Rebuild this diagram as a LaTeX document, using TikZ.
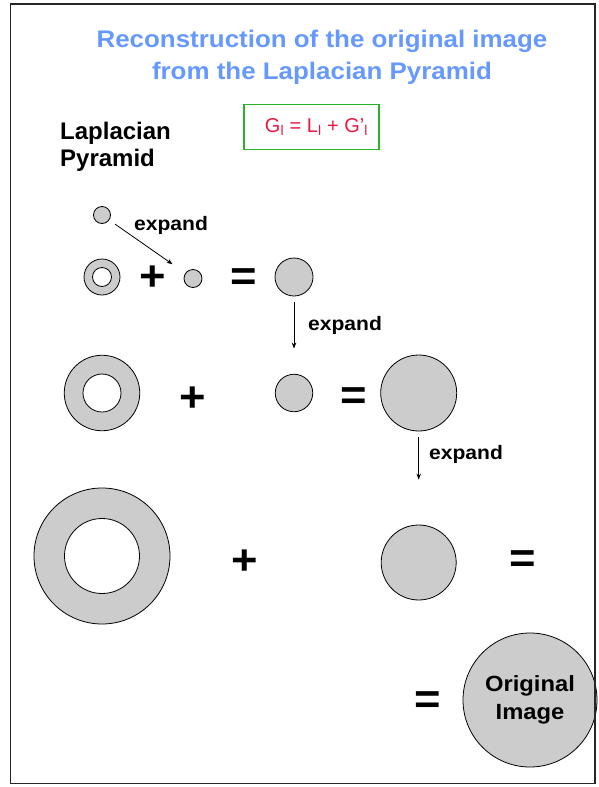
\documentclass[tikz,border=0pt]{standalone}
\usepackage{fontspec}
\setmainfont{Liberation Sans}
\newfontfamily\widefont{Liberation Sans}[FakeStretch=1.08]
\usetikzlibrary{arrows.meta}
\definecolor{titleblue}{RGB}{102,153,255}
\definecolor{eqred}{RGB}{235,25,65}
\definecolor{boxgreen}{RGB}{40,180,40}
\definecolor{cgray}{RGB}{204,204,204}
\begin{document}
\begin{tikzpicture}[x=1pt,y=-1pt,
  disc/.style={circle,draw=black,line width=0.8pt,fill=cgray,inner sep=0pt,minimum size=#1},
  hole/.style={circle,draw=black,line width=0.8pt,fill=white,inner sep=0pt,minimum size=#1},
  op/.style={inner sep=0pt,font=\widefont\fontsize{42}{42}\selectfont\bfseries},
  lbl/.style={inner sep=0pt,anchor=west,font=\widefont\fontsize{19.5}{19.5}\selectfont\bfseries},
  arr/.style={-{Stealth[length=6pt,width=4.5pt]},line width=0.8pt}]
\useasboundingbox (0,0) rectangle (598,787);
\fill[white] (0,0) rectangle (598,787);

% title
\node[inner sep=0pt,align=center,text=titleblue,
      font=\widefont\fontsize{24}{32}\selectfont\bfseries] (title) at (322,57)
  {Reconstruction of the original image\\from the Laplacian Pyramid};

% formula box
\node[draw=boxgreen,line width=1.2pt,minimum width=135pt,minimum height=45pt,
      inner sep=0pt,text=eqred,font=\fontsize{20}{20}\selectfont] (eq) at (311.5,126.7)
  {\hspace*{10pt}G\textsubscript{l} = L\textsubscript{l} + G'\textsubscript{l}};

% Laplacian pyramid label
\node[inner sep=0pt,anchor=north west,align=left,
      font=\fontsize{24}{27.7}\selectfont\bfseries] (lp) at (60,121.5)
  {Laplacian\\Pyramid};

% top small circle
\node[disc=17pt] (s0) at (102,215) {};

% row 1
\node[disc=36pt] (r1o) at (102,277) {};
\node[hole=19pt] (r1i) at (102,277) {};
\node[op] (p1) at (152.5,278.5) {+};
\node[disc=18pt] (s1) at (193,278.5) {};
\node[op] (e1) at (244,280) {=};
\node[disc=38pt] (g1) at (294,277) {};

% row 2
\node[disc=75.5pt] (r2o) at (102,393) {};
\node[hole=38pt] (r2i) at (102,393) {};
\node[op] (p2) at (193,399) {+};
\node[disc=37.5pt] (s2) at (294,393) {};
\node[op] (e2) at (354,399) {=};
\node[disc=76pt] (g2) at (418.7,393) {};

% row 3
\node[disc=136pt] (r3o) at (102,556) {};
\node[hole=75pt] (r3i) at (102,556) {};
\node[op] (p3) at (245,562) {+};
\node[disc=75pt] (c3) at (418.7,562.5) {};
\node[op] (e3) at (523,562) {=};

% row 4
\node[op] (e4) at (428,703) {=};
\node[disc=134pt,align=center,font=\widefont\fontsize{22}{27.7}\selectfont\bfseries] (orig) at (530,700)
  {Original\\Image};

% expand arrows
\draw[arr,shorten <=7pt,shorten >=15.5pt] (s0) -- (s1);
\node[lbl] (x0) at (134,225.7) {expand};
\draw[arr,shorten <=5.7pt,shorten >=25.3pt] (g1) -- (s2);
\node[lbl] (x1) at (308,325) {expand};
\draw[arr,shorten <=5.7pt,shorten >=45pt] (g2) -- (c3);
\node[lbl] (x2) at (429,454) {expand};

% frame
\draw[line width=1.6pt,draw=black!85] (10.5,4) rectangle (595,783.5);
\end{tikzpicture}
\end{document}
